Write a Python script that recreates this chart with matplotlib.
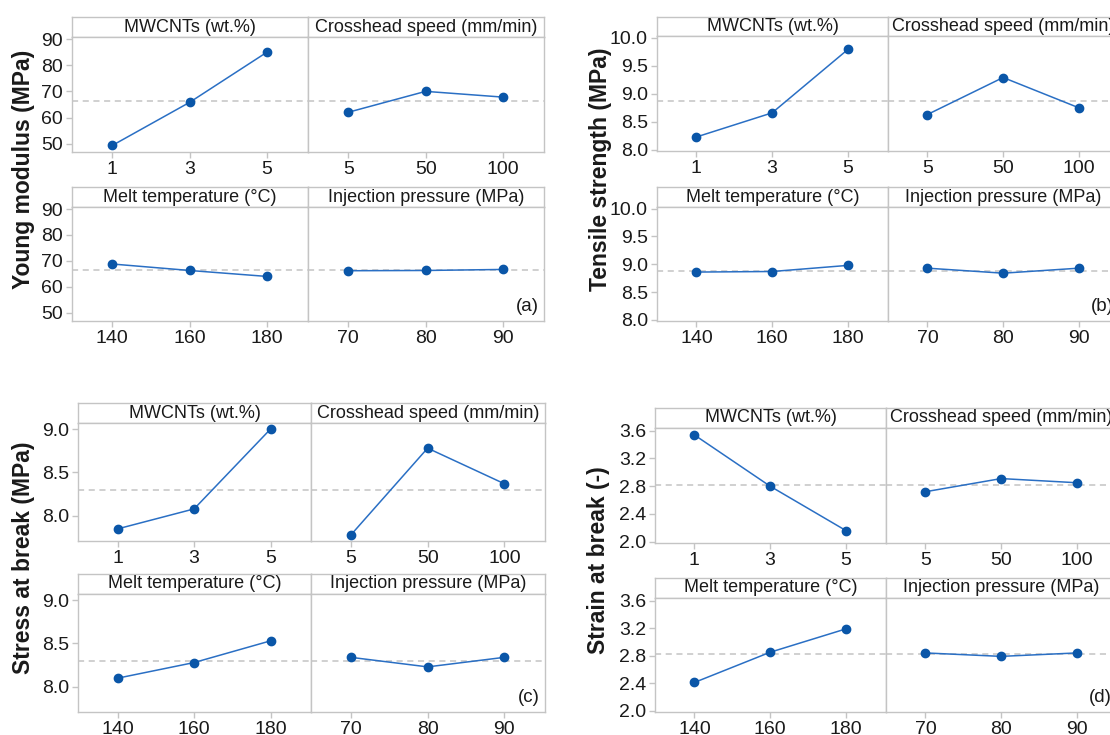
import matplotlib.pyplot as plt

plt.rcParams['font.family'] = ['Liberation Sans', 'DejaVu Sans']

W, H = 1110, 735
BLUE = '#0a56a8'
LINE = '#2a6fc4'
GREY = '#c4c4c4'

factors = ['MWCNTs (wt.%)', 'Crosshead speed (mm/min)',
           'Melt temperature (°C)', 'Injection pressure (MPa)']
levels = [['1', '3', '5'], ['5', '50', '100'],
          ['140', '160', '180'], ['70', '80', '90']]

young = [[49.3, 65.8, 85.0], [62.0, 70.0, 67.8],
         [68.8, 66.3, 64.0], [66.2, 66.3, 66.7]]
young_mean = 66.4
young_ticks = [50, 60, 70, 80, 90]

tensile = [[8.23, 8.66, 9.79], [8.63, 9.29, 8.75],
           [8.86, 8.87, 8.98], [8.93, 8.84, 8.93]]
tensile_mean = 8.88
tensile_ticks = [8.0, 8.5, 9.0, 9.5, 10.0]

stress = [[7.85, 8.08, 9.00], [7.78, 8.78, 8.37],
          [8.10, 8.28, 8.53], [8.34, 8.23, 8.34]]
stress_mean = 8.30
stress_ticks = [8.0, 8.5, 9.0]

strain = [[3.54, 2.80, 2.16], [2.72, 2.91, 2.85],
          [2.41, 2.85, 3.19], [2.84, 2.79, 2.84]]
strain_mean = 2.82
strain_ticks = [2.0, 2.4, 2.8, 3.2, 3.6]

fig = plt.figure(figsize=(W / 100, H / 100), dpi=100)


def px_axes(l, t, r, b):
    return fig.add_axes([l / W, 1 - b / H, (r - l) / W, (b - t) / H])


def style(ax):
    for s in ax.spines.values():
        s.set_color(GREY)
        s.set_linewidth(1.0)
    ax.tick_params(colors=GREY, labelcolor='#1a1a1a', length=4, width=1,
                   labelsize=14, pad=2.5)


def draw_panel(x0, xm, x1, rows, data, mean, ylim, yticks, fmt, ylabel, ylx, letter):
    k = 0
    for r, (ht, pt, pb) in enumerate(rows):
        for c, (l, rr) in enumerate([(x0, xm), (xm, x1)]):
            hd = px_axes(l, ht, rr, pt)
            hd.set_xticks([])
            hd.set_yticks([])
            style(hd)
            hd.text(0.5, 0.5, factors[k], ha='center', va='center',
                    fontsize=13, color='#1a1a1a', transform=hd.transAxes)

            ax = px_axes(l, pt, rr, pb)
            style(ax)
            ax.axhline(mean, color=GREY, lw=1.1, dashes=(4, 3), zorder=1)
            ax.plot(range(3), data[k], color=LINE, lw=1.1, zorder=2)
            ax.plot(range(3), data[k], 'o', color=BLUE, ms=6, zorder=3)
            ax.set_xlim(-0.52, 2.53)
            ax.set_ylim(*ylim)
            ax.set_xticks(range(3))
            ax.set_xticklabels(levels[k])
            ax.set_yticks(yticks)
            if c == 0:
                ax.set_yticklabels([fmt.format(v) for v in yticks])
            else:
                ax.tick_params(axis='y', length=0, labelleft=False)
            if r == 1 and c == 1:
                ax.annotate(letter, xy=(1, 0), xycoords='axes fraction',
                            xytext=(-5, 6), textcoords='offset pixels',
                            ha='right', va='bottom', fontsize=13.5,
                            color='#1a1a1a')
            k += 1
    yc = (rows[0][0] + rows[1][2]) / 2
    fig.text(ylx / W, 1 - yc / H, ylabel, rotation=90, ha='center',
             va='center', fontsize=16.5, fontweight='bold', color='#1a1a1a')


draw_panel(72, 308, 544, [(17, 37, 152), (187, 207, 321)], young,
           young_mean, (46.8, 90.8), young_ticks, '{:.0f}',
           'Young modulus (MPa)', 24, '(a)')
draw_panel(657, 888, 1119, [(17, 36, 151), (187, 207, 321)], tensile,
           tensile_mean, (7.98, 10.03), tensile_ticks, '{:.1f}',
           'Tensile strength (MPa)', 600, '(b)')
draw_panel(78, 311, 545, [(403, 423, 541), (574, 594, 712)], stress,
           stress_mean, (7.71, 9.07), stress_ticks, '{:.1f}',
           'Stress at break (MPa)', 24, '(c)')
draw_panel(655, 886, 1117, [(408, 428, 543), (578, 598, 712)], strain,
           strain_mean, (1.98, 3.64), strain_ticks, '{:.1f}',
           'Strain at break (-)', 599, '(d)')

fig.savefig('out.png', dpi=100)
